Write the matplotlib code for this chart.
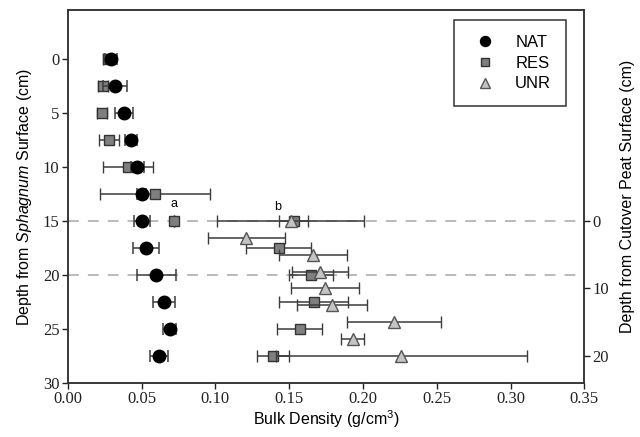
import numpy as np
import matplotlib
matplotlib.use('Agg')
import matplotlib.pyplot as plt

plt.rcParams['mathtext.fontset'] = 'custom'
plt.rcParams['mathtext.rm'] = 'Liberation Sans'
plt.rcParams['mathtext.it'] = 'Liberation Sans:italic'

# depth below Sphagnum surface (cm) for natural and restored sites
nat_depth = [0, 2.5, 5, 7.5, 10, 12.5, 15, 17.5, 20, 22.5, 25, 27.5]
nat_bd = [0.029, 0.032, 0.038, 0.043, 0.047, 0.050, 0.050, 0.053, 0.060, 0.065, 0.069, 0.062]
nat_err = [0.004, 0.008, 0.006, 0.004, 0.0045, 0.003, 0.0055, 0.009, 0.013, 0.0074, 0.0045, 0.006]

res_depth = [0, 2.5, 5, 7.5, 10, 12.5, 15, 15, 17.5, 20, 22.5, 25, 27.5]
res_bd = [0.027, 0.024, 0.023, 0.028, 0.041, 0.059, 0.072, 0.153, 0.143, 0.165, 0.1665, 0.157, 0.139]
res_err = [0.003, 0.0035, 0.0035, 0.0068, 0.017, 0.037, 0.0, 0.010, 0.022, 0.015, 0.0235, 0.015, 0.011]

# unrestored site: depth below cutover peat surface (cm), right axis
unr_depth = [0, 2.5, 5, 7.5, 10, 12.5, 15, 17.5, 20]
unr_bd = [0.151, 0.121, 0.166, 0.171, 0.174, 0.179, 0.221, 0.193, 0.226]
unr_err = [0.050, 0.026, 0.023, 0.019, 0.023, 0.024, 0.032, 0.008, 0.085]

# cutover surface sits 15 cm below Sphagnum surface; scale factor between axes
offset = 15.0
scale = 1.6
ylim_left = (30, -4.5)

fig = plt.figure(figsize=(6.4, 4.37), dpi=100)
ax = fig.add_axes([0.106, 0.124, 0.807, 0.852])
ax2 = ax.twinx()

# dashed reference lines
for d in (15, 20):
    ax.axhline(d, color='#b4b4b4', ls=(0, (6, 5)), lw=1.3, zorder=0)

ebkw = dict(ecolor='#3c3c3c', elinewidth=1.1, capsize=4, capthick=1.1, ls='none')

ax.errorbar(nat_bd, nat_depth, xerr=nat_err, fmt='o', color='black', ms=9,
            mec='black', label='NAT', zorder=4, **ebkw)
ax.errorbar(res_bd, res_depth, xerr=res_err, fmt='s', color='#7f7f7f', ms=7,
            mec='#333333', mew=1, label='RES', zorder=3, **ebkw)
ax2.errorbar(unr_bd, unr_depth, xerr=unr_err, fmt='^', color='#c4c4c4', ms=9,
             mec='#555555', mew=1, label='UNR', zorder=3, **ebkw)

ax.text(0.072, 14.0, 'a', ha='center', va='bottom', fontsize=9, family='Liberation Sans')
ax.text(0.1425, 14.3, 'b', ha='center', va='bottom', fontsize=9, family='Liberation Sans')

ax.set_xlim(0, 0.35)
ax.set_ylim(*ylim_left)
ax2.set_ylim((ylim_left[0] - offset) * scale, (ylim_left[1] - offset) * scale)

ax.set_xticks(np.arange(0, 0.351, 0.05))
ax.set_xticklabels(['%.2f' % v for v in np.arange(0, 0.351, 0.05)])
ax.set_yticks(range(0, 31, 5))
ax2.set_yticks([0, 10, 20])

for a in (ax, ax2):
    a.tick_params(direction='out', length=4, width=1, labelsize=12, colors='#222222', pad=2)
    for lab in a.get_xticklabels() + a.get_yticklabels():
        lab.set_family('Liberation Serif')
    for s in a.spines.values():
        s.set_color('#333333')
        s.set_linewidth(1.1)

ax.set_xlabel('Bulk Density (g/cm$^3$)', fontsize=11.5, family='Liberation Sans', labelpad=1)
ax.set_ylabel('Depth from $\\mathit{Sphagnum}$ Surface (cm)', fontsize=11.5,
              family='Liberation Sans', labelpad=6)
ax2.set_ylabel('Depth from Cutover Peat Surface (cm)', fontsize=11.5,
               family='Liberation Sans', rotation=90, labelpad=8)

h1, l1 = ax.get_legend_handles_labels()
h2, l2 = ax2.get_legend_handles_labels()
handles = [h[0] for h in h1 + h2]
leg = ax2.legend(handles, l1 + l2, loc='upper right', bbox_to_anchor=(0.965, 0.975),
                 prop={'family': 'Liberation Sans', 'size': 12}, fancybox=False,
                 edgecolor='#333333', framealpha=1, borderpad=0.9, labelspacing=0.35,
                 handletextpad=0.8, borderaxespad=0, markerscale=0.8)
leg.get_frame().set_linewidth(1.1)

fig.savefig('out.png', dpi=100)
